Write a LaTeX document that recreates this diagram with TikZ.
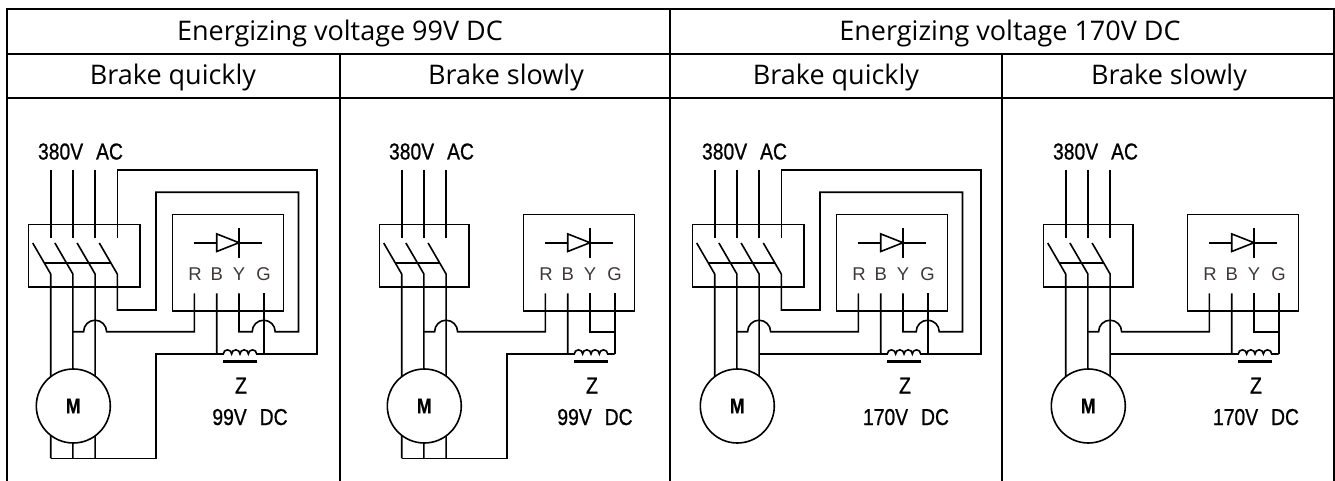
\documentclass[tikz,border=0pt]{standalone}
\usepackage{fontspec}
\setmainfont{Open Sans}
\newfontfamily\circfont[FakeStretch=0.84,FakeBold=0.8]{Liberation Sans}
\newfontfamily\lblfont{Liberation Sans}
\definecolor{lblgray}{RGB}{64,56,56}
\begin{document}
\begin{tikzpicture}[x=1pt,y=-1pt,
  wire/.style={line width=1.6pt, line join=miter},
  tbl/.style={line width=2pt},
  hdr/.style={font=\fontsize{27}{32}\selectfont, inner sep=0, anchor=base},
  ctext/.style={font=\circfont\fontsize{23}{27}\selectfont, inner sep=0, anchor=base},
  lbl/.style={font=\lblfont\fontsize{18.5}{22}\selectfont, text=lblgray, inner sep=0, anchor=base},
  boxnode/.style={draw, line width=1.6pt, inner sep=0, outer sep=0},
  motornode/.style={draw, circle, line width=1.6pt, fill=white, minimum size=74pt, inner sep=0,
    font=\circfont\bfseries\fontsize{21}{25}\selectfont},
]
\useasboundingbox (0,0) rectangle (1335,481);

% table
\draw[tbl] (6.5,481) -- (6.5,9.5) -- (1333.5,9.5) -- (1333.5,481);
\draw[tbl] (6.5,54) -- (1333.5,54);
\draw[tbl] (6.5,98) -- (1333.5,98);
\draw[tbl] (669.5,9.5) -- (669.5,481);
\draw[tbl] (339.5,54) -- (339.5,481);
\draw[tbl] (1002,54) -- (1002,481);

\node[hdr] (h1) at (340,41) {Energizing voltage 99V DC};
\node[hdr] (h2) at (1010,41) {Energizing voltage 170V DC};
\node[hdr] (q1) at (173,85) {Brake quickly};
\node[hdr] (s1) at (506,85) {Brake slowly};
\node[hdr] (q2) at (836,85) {Brake quickly};
\node[hdr] (s2) at (1169,85) {Brake slowly};

\foreach \p/\s/\np/\quick/\ninety/\volt/\vx in {1/0/4/1/1/99/250, 2/351/3/0/1/99/244, 3/664/4/1/0/170/242, 4/1015/3/0/0/170/241} {
\begin{scope}[xshift=\s]
  \ifnum\ninety=1 \def\mbot{458.3}\else\def\mbot{406}\fi
  \ifnum\np=4 \def\cbw{111.7}\def\cbx{84.15}\def\lkend{110.7}\else\def\cbw{89.4}\def\cbx{73}\def\lkend{88.5}\fi
  % supply label
  \node[ctext] (ac\p) at (80.5,159.5) {380V\hspace{13pt}AC};
  % contactor box
  \node[boxnode, minimum width=\cbw, minimum height=62.7] (cb\p) at (\cbx,255.65) {};
  % rectifier box
  \node[boxnode, minimum width=111, minimum height=96.7] (rb\p) at (227.8,262.65) {};
  % phases and blades
  \foreach \a in {50.7,72.9,95.1} {
    \draw[wire] (\a,170) -- (\a,238.3);
    \draw[wire] (\a-18,243) -- (\a,274) -- (\a,\mbot);
  }
  \ifnum\np=4
    \draw[wire] (117.3,274) -- (117.3-18,243);
  \fi
  % linkage
  \draw[wire] (44.1,262.7) -- (\lkend,262.7);
  % diode
  \draw[wire] (194.3,242.7) -- (261.7,242.7);
  \draw[wire, fill=white] (216.7,233.9) -- (239,242.7) -- (216.7,251.5) -- cycle;
  \draw[wire] (239,227.7) -- (239,257.7);
  \node[lbl] (lR\p) at (195,280.5) {R};
  \node[lbl] (lB\p) at (216.7,280.5) {B};
  \node[lbl] (lY\p) at (239,280.5) {Y};
  \node[lbl] (lG\p) at (263.5,280.5) {G};
  % R terminal wire with crossover
  \draw[wire] (194.3,293.3) -- (194.3,331.7) -- (106.6,331.7)
     arc[start angle=0, end angle=180, radius=11.5pt] -- (72.9,331.7);
  % B terminal to coil
  \draw[wire] (216.7,293.3) -- (216.7,354) -- (223.3,354)
     arc[start angle=180, end angle=0, radius=4.175pt]
     arc[start angle=180, end angle=0, radius=4.175pt]
     arc[start angle=180, end angle=0, radius=4.175pt]
     arc[start angle=180, end angle=0, radius=4.175pt] -- (263.7,354);
  \draw[line width=3.6pt] (223.3,361.5) -- (256.7,361.5);
  \ifnum\quick=1
    % outer loop
    \draw[wire] (117.3,238.3) -- (117.3,170) -- (316.7,170) -- (316.7,354) -- (263.7,354) -- (263.7,293.3);
    % middle loop
    \draw[wire] (117.3,274) -- (117.3,310) -- (156,310) -- (156,192.3) -- (298.5,192.3) -- (298.5,331.7)
       -- (275.2,331.7) arc[start angle=0, end angle=180, radius=11.5pt] -- (239,331.7) -- (239,293.3);
  \else
    \draw[wire] (239,293.3) -- (239,332) -- (263.7,332) -- (263.7,293.3);
    \draw[wire] (263.7,332) -- (263.7,354);
  \fi
  \ifnum\ninety=1
    \draw[wire] (216.7,354) -- (156,354) -- (156,458.3) -- (50.7,458.3);
  \else
    \draw[wire] (216.7,354) -- (95.1,354);
  \fi
  % motor
  \node[motornode] (m\p) at (73.3,406) {M};
  % coil labels
  \node[ctext] (z\p) at (241,393.5) {Z};
  \node[ctext] (v\p) at (\vx,425) {\volt V\hspace{13pt}DC};
\end{scope}
}
\end{tikzpicture}
\end{document}
